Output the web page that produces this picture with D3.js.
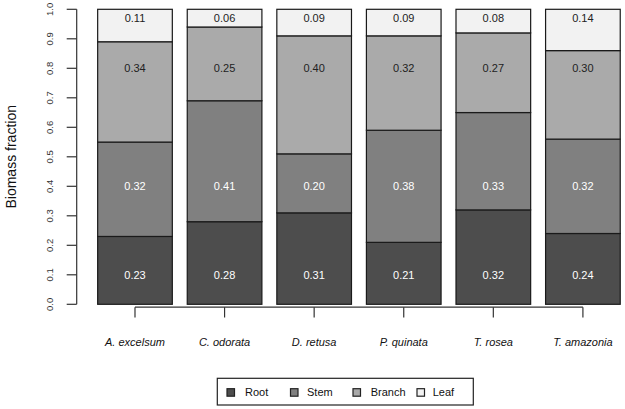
<!DOCTYPE html>
<html><head><meta charset="utf-8">
<script src="https://cdn.jsdelivr.net/npm/d3@7/dist/d3.min.js"></script>
<style>body{margin:0;background:#fff;} svg{display:block;font-family:"Liberation Sans",Arial,sans-serif;}</style>
</head><body>
<svg id="c" width="625" height="409"></svg>
<script>
const species = ["A. excelsum","C. odorata","D. retusa","P. quinata","T. rosea","T. amazonia"];
const parts = ["Root","Stem","Branch","Leaf"];
const root   = [0.23,0.28,0.31,0.21,0.32,0.24];
const stem   = [0.32,0.41,0.20,0.38,0.33,0.32];
const branch = [0.34,0.25,0.40,0.32,0.27,0.30];
const leaf   = [0.11,0.06,0.09,0.09,0.08,0.14];
const labelY = [0.10,0.40,0.80,0.97];
const yTicks = [0,0.1,0.2,0.3,0.4,0.5,0.6,0.7,0.8,0.9,1.0];
const colors = ["#4d4d4d","#808080","#aaaaaa","#f2f2f2"];
const textColors = ["#ffffff","#ffffff","#222222","#222222"];

const series = [root,stem,branch,leaf];
const svg = d3.select("#c");
const y = d3.scaleLinear().domain([0,1]).range([304.3,9.3]);
const x = d3.scaleBand().domain(species).range([90.2,627.7]).paddingInner(0.2/1.2).paddingOuter(0.1/1.2*1.0);

const rows = species.map((s,i)=>{const o={sp:s}; parts.forEach((p,j)=>o[p]=series[j][i]); return o;});
const stack = d3.stack().keys(parts)(rows);

stack.forEach((layer,j)=>{
  svg.append("g").selectAll("rect").data(layer).join("rect")
    .attr("x",d=>x(d.data.sp)).attr("width",x.bandwidth())
    .attr("y",d=>y(d[1])).attr("height",d=>y(d[0])-y(d[1]))
    .attr("fill",colors[j]).attr("stroke","#1a1a1a").attr("stroke-width",1.2);
  svg.append("g").selectAll("text").data(layer).join("text")
    .attr("x",d=>x(d.data.sp)+x.bandwidth()/2).attr("y",y(labelY[j]))
    .attr("dy","0.35em").attr("text-anchor","middle").attr("font-size",11)
    .attr("fill",textColors[j]).text(d=>(d[1]-d[0]).toFixed(2));
});

// y axis
const ya = svg.append("g").attr("transform","translate(76.7,0)");
ya.append("line").attr("x1",0).attr("x2",0).attr("y1",y(0)).attr("y2",y(1)).attr("stroke","#333").attr("stroke-width",1.2);
ya.selectAll("line.t").data(yTicks).join("line").attr("class","t")
  .attr("x1",-10).attr("x2",0).attr("y1",d=>y(d)).attr("y2",d=>y(d)).attr("stroke","#333").attr("stroke-width",1.2);
ya.selectAll("text").data(yTicks).join("text")
  .attr("transform",d=>`translate(-27,${y(d)}) rotate(-90)`)
  .attr("text-anchor","middle").attr("dy","0.35em").attr("font-size",9.5).attr("fill","#333")
  .text(d=>d.toFixed(1));
svg.append("text").attr("transform",`translate(11,${(y(0)+y(1))/2}) rotate(-90)`)
  .attr("text-anchor","middle").attr("dy","0.35em").attr("font-size",14).attr("fill","#111").text("Biomass fraction");

// x axis
const cx = d=>x(d)+x.bandwidth()/2;
svg.append("line").attr("x1",cx(species[0])).attr("x2",cx(species[species.length-1]))
  .attr("y1",307.2).attr("y2",307.2).attr("stroke","#333").attr("stroke-width",1.2);
svg.append("g").selectAll("line").data(species).join("line")
  .attr("x1",cx).attr("x2",cx).attr("y1",307.2).attr("y2",317.5).attr("stroke","#333").attr("stroke-width",1.2);
svg.append("g").selectAll("text").data(species).join("text")
  .attr("x",cx).attr("y",342).attr("dy","0.35em").attr("text-anchor","middle")
  .attr("font-size",11).attr("font-style","italic").attr("fill","#111").text(d=>d);

// legend
const lg = svg.append("g");
lg.append("rect").attr("x",217.3).attr("y",378.3).attr("width",256).attr("height",26.7)
  .attr("fill","#fff").attr("stroke","#222").attr("stroke-width",1.2);
const lx = [227,290.5,353,417];
const tx = [245,307,370.7,432.7];
parts.forEach((p,j)=>{
  lg.append("rect").attr("x",lx[j]).attr("y",388.7).attr("width",7.5).attr("height",7.5)
    .attr("fill",colors[j]).attr("stroke","#222").attr("stroke-width",1.2);
  lg.append("text").attr("x",tx[j]).attr("y",392.5).attr("dy","0.35em").attr("font-size",11)
    .attr("fill","#111").text(p);
});
</script>
</body></html>
